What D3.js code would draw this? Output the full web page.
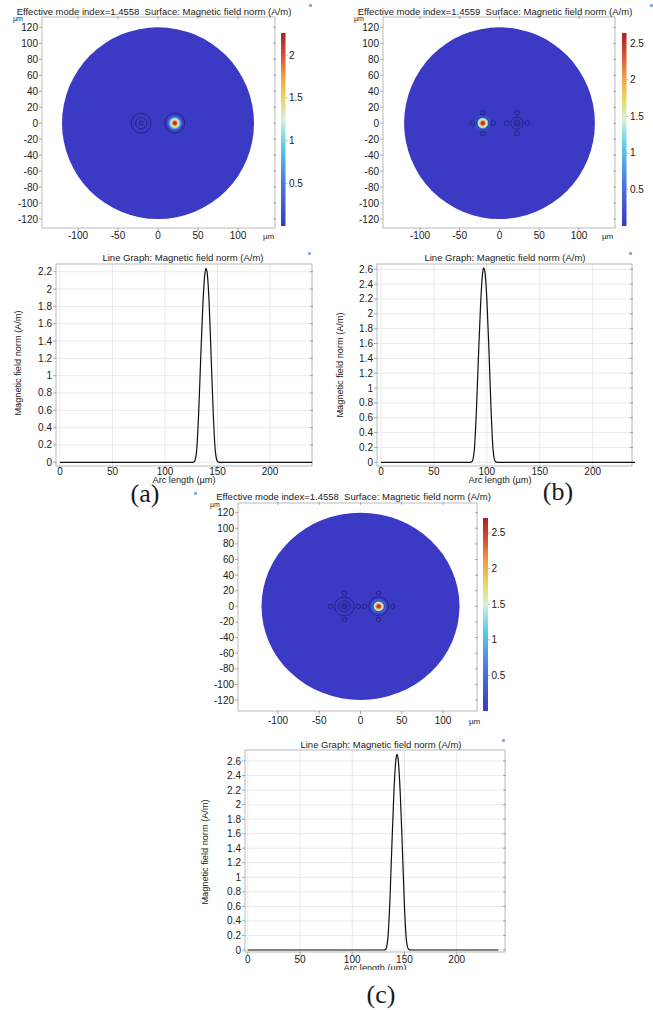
<!DOCTYPE html>
<html><head><meta charset="utf-8">
<script src="https://cdn.jsdelivr.net/npm/d3@7"></script>
<style>
body{margin:0;background:#fff}
svg{display:block}
text{font-family:"Liberation Sans",Arial,sans-serif;fill:#1a1a1a}
</style>
</head><body>
<svg id="fig" width="653" height="1010"></svg>
<script>
// ---------------- data ----------------
const modeIndex = ["1.4558", "1.4559", "1.4558"];
const surfaceTitle = "Surface: Magnetic field norm (A/m)";
const lineTitle = "Line Graph: Magnetic field norm (A/m)";
const yLabelLine = "Magnetic field norm (A/m)";
const xLabelLine = "Arc length (µm)";
const panelLabels = ["(a)", "(b)", "(c)"];

const xTicks2D = [-100, -50, 0, 50, 100];
const yTicks2D = [-120, -100, -80, -60, -40, -20, 0, 20, 40, 60, 80, 100, 120];
const claddingRadius = [120];

const colorbarMax = [2.26, 2.64, 2.71];
const colorbarTicksA = [0.5, 1, 1.5, 2];
const colorbarTicksBC = [0.5, 1, 1.5, 2, 2.5];

// colour map (fraction of range -> colour)
const cmapFrac = [0, 0.22, 0.42, 0.55, 0.66, 0.77, 0.88, 1];
const cmapColor = ["#3a3ac4", "#4a78e0", "#5ccfe2", "#d6f0dc", "#e8d862", "#f0a244", "#dc5236", "#a82222"];

// cores: x position (µm), ring radii (µm)
const coreXA = [-21, 21];
const coreRingsA = [[12.5, 7, 2.5], [12.5]];
const coreXB = [-21, 22];
const coreRingsB = [[7.7], [7.7, 4, 1.8]];
const coreXC = [-19.5, 22];
const coreRingsC = [[12, 7, 3.5, 1.5], [12, 7]];
const holeOffset = [0, 13, 17];
const holeRadius = [0, 3, 2.7];
const modeCore = [1, 0, 1];

// 2D spot radial profile
const spotR = [0, 2, 3.5, 5, 6.5, 8, 10];
const spotVA = [2.25, 2.1, 1.65, 1.25, 0.8, 0.35, 0.02];
const spotVB = [2.62, 2.45, 1.95, 1.45, 0.95, 0.4, 0.02];
const spotVC = [2.7, 2.52, 2.0, 1.5, 0.95, 0.4, 0.02];

// line graphs
const xTicksLine = [0, 50, 100, 150, 200];
const yTicksLineA = [0, 0.2, 0.4, 0.6, 0.8, 1, 1.2, 1.4, 1.6, 1.8, 2, 2.2];
const yTicksLineBC = [0, 0.2, 0.4, 0.6, 0.8, 1, 1.2, 1.4, 1.6, 1.8, 2, 2.2, 2.4, 2.6];

const arcA = [0, 126, 128, 130, 132, 134, 136, 138, 139, 140, 142, 144, 146, 148, 150, 152, 240];
const valA = [0, 0, 0.01, 0.12, 0.55, 1.2, 1.8, 2.18, 2.24, 2.2, 1.85, 1.2, 0.55, 0.12, 0.01, 0, 0];
const arcB = [0, 84, 86, 88, 90, 92, 94, 96, 97, 98, 100, 102, 104, 106, 108, 110, 240];
const valB = [0, 0, 0.01, 0.14, 0.65, 1.4, 2.1, 2.55, 2.62, 2.58, 2.2, 1.5, 0.7, 0.15, 0.01, 0, 0];
const arcC = [0, 130, 132, 134, 136, 138, 140, 142, 143, 144, 146, 148, 150, 152, 154, 156, 240];
const valC = [0, 0, 0.01, 0.14, 0.65, 1.45, 2.2, 2.64, 2.69, 2.62, 2.15, 1.4, 0.6, 0.12, 0.01, 0, 0];

// ---------------- layout ----------------
const svg = d3.select("#fig");
const defs = svg.append("defs");
const gridC = "#e4e4e4", frameC = "#a8a8a8", tickC = "#888";
const TICK_FS = 10, TITLE_FS = 9.5, LABEL_FS = 9.2;

function cmap(max) {
  return d3.scaleLinear().domain(cmapFrac.map(f => f * max)).range(cmapColor).clamp(true);
}

function icon(x, y) {
  svg.append("rect").attr("x", x).attr("y", y).attr("width", 3).attr("height", 3)
    .attr("rx", 1).attr("fill", "#86a6dc");
}

function draw2D(p) {
  const g = svg.append("g");
  const xs = d3.scaleLinear().domain([-100, 100]).range(p.xr);
  const ys = d3.scaleLinear().domain([-120, 120]).range(p.yr);
  const col = cmap(p.max);
  const [fx0, fx1, fy0, fy1] = p.frame;

  // disk
  const R = claddingRadius[0];
  g.append("ellipse").attr("cx", xs(0)).attr("cy", ys(0))
    .attr("rx", xs(R) - xs(0)).attr("ry", ys(0) - ys(R)).attr("fill", col(0));

  // mode spot
  const gid = "spot" + p.id;
  const rg = defs.append("radialGradient").attr("id", gid);
  const rmax = d3.max(spotR);
  spotR.forEach((r, i) => rg.append("stop").attr("offset", r / rmax).attr("stop-color", col(p.spotV[i])));
  const mx = p.coreX[p.modeCore];
  g.append("ellipse").attr("cx", xs(mx)).attr("cy", ys(0))
    .attr("rx", xs(rmax) - xs(0)).attr("ry", ys(0) - ys(rmax)).attr("fill", `url(#${gid})`);

  // rings and holes
  p.coreX.forEach((cx, i) => {
    p.rings[i].forEach(r => {
      g.append("ellipse").attr("cx", xs(cx)).attr("cy", ys(0))
        .attr("rx", xs(r) - xs(0)).attr("ry", ys(0) - ys(r))
        .attr("fill", "none").attr("stroke", "#1c1c70").attr("stroke-width", 0.8).attr("stroke-opacity", 0.9);
    });
    if (p.holeOff > 0) {
      [[p.holeOff, 0], [-p.holeOff, 0], [0, p.holeOff], [0, -p.holeOff]].forEach(([dx, dy]) => {
        g.append("ellipse").attr("cx", xs(cx + dx)).attr("cy", ys(dy))
          .attr("rx", xs(p.holeR) - xs(0)).attr("ry", ys(0) - ys(p.holeR))
          .attr("fill", "none").attr("stroke", "#1c1c70").attr("stroke-width", 0.8).attr("stroke-opacity", 0.9);
      });
    }
  });

  // frame
  g.append("rect").attr("x", fx0).attr("y", fy0).attr("width", fx1 - fx0).attr("height", fy1 - fy0)
    .attr("fill", "none").attr("stroke", frameC).attr("stroke-width", 0.8);
  yTicks2D.forEach(t => {
    g.append("line").attr("x1", fx0 - 3).attr("x2", fx0).attr("y1", ys(t)).attr("y2", ys(t)).attr("stroke", tickC).attr("stroke-width", 0.7);
    g.append("line").attr("x1", fx1 - 2).attr("x2", fx1 + 1).attr("y1", ys(t)).attr("y2", ys(t)).attr("stroke", tickC).attr("stroke-width", 0.7);
    g.append("text").attr("x", fx0 - 4).attr("y", ys(t)).attr("dy", "0.35em").attr("text-anchor", "end")
      .attr("font-size", TICK_FS).text(t);
  });
  xTicks2D.forEach(t => {
    g.append("line").attr("x1", xs(t)).attr("x2", xs(t)).attr("y1", fy1).attr("y2", fy1 + 3).attr("stroke", tickC).attr("stroke-width", 0.7);
    g.append("line").attr("x1", xs(t)).attr("x2", xs(t)).attr("y1", fy0 - 1).attr("y2", fy0 + 2).attr("stroke", tickC).attr("stroke-width", 0.7);
    g.append("text").attr("x", xs(t)).attr("y", p.xLabY).attr("text-anchor", "middle")
      .attr("font-size", TICK_FS).text(t);
  });
  g.append("text").attr("x", p.umTop[0]).attr("y", p.umTop[1]).attr("font-size", 7).text("µm");
  g.append("text").attr("x", p.umBot[0]).attr("y", p.umBot[1]).attr("font-size", 8).text("µm");

  // title
  g.append("text").attr("x", p.titleX).attr("y", p.titleY).attr("text-anchor", "middle")
    .attr("font-size", TITLE_FS).attr("xml:space", "preserve")
    .text(`Effective mode index=${p.neff}  ${surfaceTitle}`);

  // colorbar
  const cid = "cb" + p.id;
  const lg = defs.append("linearGradient").attr("id", cid).attr("x1", 0).attr("y1", 1).attr("x2", 0).attr("y2", 0);
  cmapFrac.forEach((f, i) => lg.append("stop").attr("offset", f).attr("stop-color", cmapColor[i]));
  const cs = d3.scaleLinear().domain([0, p.max]).range([p.cb[3], p.cb[2]]);
  g.append("rect").attr("x", p.cb[0]).attr("y", p.cb[2]).attr("width", p.cb[1]).attr("height", p.cb[3] - p.cb[2])
    .attr("fill", `url(#${cid})`);
  p.cbTicks.forEach(t => {
    g.append("line").attr("x1", p.cb[0] + p.cb[1]).attr("x2", p.cb[0] + p.cb[1] + 2).attr("y1", cs(t)).attr("y2", cs(t))
      .attr("stroke", tickC).attr("stroke-width", 0.6);
    g.append("text").attr("x", p.cb[0] + p.cb[1] + 3.5).attr("y", cs(t)).attr("dy", "0.35em")
      .attr("font-size", TICK_FS).text(t);
  });
}

function drawLine(p) {
  const g = svg.append("g");
  const xs = d3.scaleLinear().domain([0, 200]).range(p.xr);
  const ys = d3.scaleLinear().domain([0, p.yTop]).range(p.yr);
  const [fx0, fx1, fy0, fy1] = p.frame;

  g.append("rect").attr("x", fx0).attr("y", fy0).attr("width", fx1 - fx0).attr("height", fy1 - fy0).attr("fill", "#fff");
  p.yTicks.forEach(t => {
    g.append("line").attr("x1", fx0).attr("x2", fx1).attr("y1", ys(t)).attr("y2", ys(t)).attr("stroke", gridC).attr("stroke-width", 0.8);
  });
  xTicksLine.forEach(t => {
    g.append("line").attr("x1", xs(t)).attr("x2", xs(t)).attr("y1", fy0).attr("y2", fy1).attr("stroke", gridC).attr("stroke-width", 0.8);
  });
  g.append("rect").attr("x", fx0).attr("y", fy0).attr("width", fx1 - fx0).attr("height", fy1 - fy0)
    .attr("fill", "none").attr("stroke", frameC).attr("stroke-width", 0.8);

  p.yTicks.forEach(t => {
    g.append("line").attr("x1", fx0 - 3).attr("x2", fx0).attr("y1", ys(t)).attr("y2", ys(t)).attr("stroke", tickC).attr("stroke-width", 0.7);
    g.append("line").attr("x1", fx1 - 2).attr("x2", fx1 + 1).attr("y1", ys(t)).attr("y2", ys(t)).attr("stroke", tickC).attr("stroke-width", 0.7);
    g.append("text").attr("x", fx0 - 4).attr("y", ys(t)).attr("dy", "0.35em").attr("text-anchor", "end")
      .attr("font-size", TICK_FS).text(t);
  });
  xTicksLine.forEach(t => {
    g.append("line").attr("x1", xs(t)).attr("x2", xs(t)).attr("y1", fy1).attr("y2", fy1 + 3).attr("stroke", tickC).attr("stroke-width", 0.7);
    g.append("text").attr("x", xs(t)).attr("y", p.xLabY).attr("text-anchor", "middle").attr("font-size", TICK_FS).text(t);
  });

  const line = d3.line().x((d, i) => xs(p.arc[i])).y(d => ys(d)).curve(d3.curveMonotoneX);
  g.append("path").attr("d", line(p.val)).attr("fill", "none").attr("stroke", "#111").attr("stroke-width", 1.2);

  g.append("text").attr("x", p.titleX).attr("y", p.titleY).attr("text-anchor", "middle").attr("font-size", TITLE_FS).text(lineTitle);
  g.append("text").attr("transform", `translate(${p.yLab[0]},${p.yLab[1]}) rotate(-90)`).attr("text-anchor", "middle")
    .attr("dy", "0.35em").attr("font-size", LABEL_FS).text(yLabelLine);
  const xl = g.append("text").attr("x", p.arcLab[0]).attr("y", p.arcLab[1]).attr("text-anchor", "middle")
    .attr("font-size", LABEL_FS).text(xLabelLine);
  if (p.clipY) {
    defs.append("clipPath").attr("id", "clip" + p.id).append("rect").attr("x", 0).attr("y", 0).attr("width", 653).attr("height", p.clipY);
    xl.attr("clip-path", `url(#clip${p.id})`);
  }
}

// ---------- panels ----------
draw2D({ id: "A", neff: modeIndex[0], max: colorbarMax[0], cbTicks: colorbarTicksA,
  xr: [78, 238], yr: [219, 27.3], frame: [42, 275, 17, 228], xLabY: 239,
  titleX: 154, titleY: 14.5, cb: [281, 4.5, 33, 226], umTop: [13, 21], umBot: [263, 239],
  coreX: coreXA, rings: coreRingsA, holeOff: holeOffset[0], holeR: holeRadius[0], modeCore: modeCore[0], spotV: spotVA });

draw2D({ id: "B", neff: modeIndex[1], max: colorbarMax[1], cbTicks: colorbarTicksBC,
  xr: [420, 579], yr: [219, 27.3], frame: [383, 615, 17, 228], xLabY: 239,
  titleX: 495, titleY: 14.5, cb: [622, 4.5, 33, 226], umTop: [354, 21], umBot: [602, 239],
  coreX: coreXB, rings: coreRingsB, holeOff: holeOffset[1], holeR: holeRadius[1], modeCore: modeCore[1], spotV: spotVB });

draw2D({ id: "C", neff: modeIndex[2], max: colorbarMax[2], cbTicks: colorbarTicksBC,
  xr: [278, 443], yr: [700, 512.7], frame: [238, 477, 503, 711], xLabY: 723.5,
  titleX: 353.5, titleY: 499.5, cb: [483, 5, 518, 711], umTop: [210, 507], umBot: [469, 723.5],
  coreX: coreXC, rings: coreRingsC, holeOff: holeOffset[2], holeR: holeRadius[2], modeCore: modeCore[2], spotV: spotVC });

drawLine({ id: "A", arc: arcA, val: valA, yTop: 2.2, yTicks: yTicksLineA,
  xr: [60, 270], yr: [462.3, 271.7], frame: [56, 312, 264, 466], xLabY: 474.5,
  titleX: 183, titleY: 261, yLab: [18, 363], arcLab: [184, 482.5] });

drawLine({ id: "B", arc: arcB, val: valB, yTop: 2.6, yTicks: yTicksLineBC,
  xr: [381, 592.7], yr: [462.3, 269.3], frame: [377, 632, 264, 466], xLabY: 474.5,
  titleX: 505, titleY: 261, yLab: [340, 365], arcLab: [500, 482.5] });

drawLine({ id: "C", arc: arcC, val: valC, yTop: 2.6, yTicks: yTicksLineBC,
  xr: [247.7, 456.7], yr: [950, 761], frame: [245, 505, 750, 952], xLabY: 963,
  titleX: 381, titleY: 748, yLab: [205, 852], arcLab: [375, 971], clipY: 970 });

// small toolbar icons
[[309, 4], [650, 4], [308, 252], [629, 252], [194, 492], [502, 739]].forEach(([x, y]) => icon(x, y));

// panel letters
const letterPos = [[145, 502], [558, 500], [381, 1003]];
panelLabels.forEach((l, i) => {
  svg.append("text").attr("x", letterPos[i][0]).attr("y", letterPos[i][1]).attr("text-anchor", "middle")
    .style("font-family", "'Liberation Serif', 'Times New Roman', serif")
    .attr("font-size", 26).text(l);
});
</script>
</body></html>
